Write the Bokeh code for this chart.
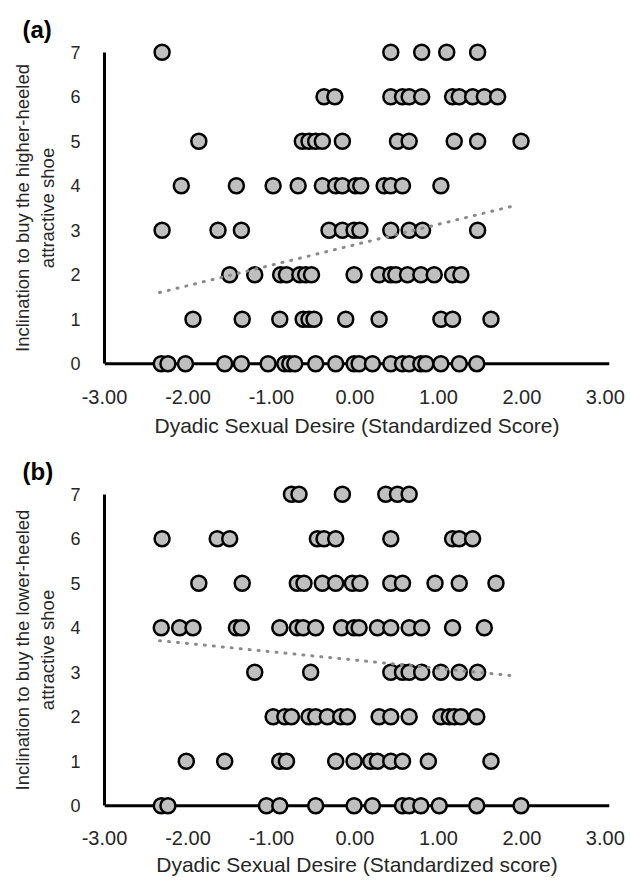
from bokeh.plotting import figure
from bokeh.layouts import column
from bokeh.models import Range1d, FixedTicker, NumeralTickFormatter, Span
from bokeh.embed import file_html
from bokeh.resources import INLINE

# ---------------- data ----------------
x_ticks = [-3, -2, -1, 0, 1, 2, 3]
y_ticks = [0, 1, 2, 3, 4, 5, 6, 7]

# Panel (a): higher-heeled attractive shoe, x values per inclination level
a_lvl7 = [-2.31, 0.43, 0.80, 1.10, 1.47]
a_lvl6 = [-0.37, -0.24, 0.43, 0.57, 0.65, 0.80, 1.17, 1.25, 1.41, 1.55, 1.71]
a_lvl5 = [-1.87, -0.63, -0.55, -0.47, -0.39, -0.15, 0.51, 0.65, 1.19, 1.47, 1.99]
a_lvl4 = [-2.08, -1.42, -0.98, -0.68, -0.39, -0.23, -0.15, 0.01, 0.07, 0.35, 0.43, 0.57, 1.03]
a_lvl3 = [-2.31, -1.64, -1.36, -0.31, -0.15, -0.01, 0.06, 0.43, 0.65, 0.81, 1.47]
a_lvl2 = [-1.50, -1.20, -0.89, -0.82, -0.66, -0.59, -0.52, -0.01, 0.29, 0.43, 0.49, 0.63, 0.79, 0.95, 1.17, 1.27]
a_lvl1 = [-1.94, -1.35, -0.90, -0.62, -0.55, -0.49, -0.11, 0.29, 1.03, 1.17, 1.63]
a_lvl0 = [-2.32, -2.24, -2.03, -1.56, -1.36, -1.04, -0.84, -0.78, -0.72, -0.47, -0.23, -0.01, 0.05,
          0.21, 0.43, 0.57, 0.65, 0.79, 0.85, 1.03, 1.25, 1.46]
a_trend_x = [-2.34, 1.95]
a_trend_y = [1.60, 3.57]

# Panel (b): lower-heeled attractive shoe
b_lvl7 = [-0.76, -0.67, -0.15, 0.37, 0.51, 0.65]
b_lvl6 = [-2.31, -1.65, -1.50, -0.45, -0.37, -0.23, 0.43, 1.17, 1.25, 1.41]
b_lvl5 = [-1.87, -1.35, -0.69, -0.61, -0.39, -0.23, -0.03, 0.06, 0.43, 0.57, 0.96, 1.25, 1.69]
b_lvl4 = [-2.32, -2.10, -1.94, -1.42, -1.36, -0.90, -0.69, -0.62, -0.47, -0.16, -0.01, 0.05, 0.27,
          0.43, 0.65, 0.80, 1.17, 1.55]
b_lvl3 = [-1.20, -0.53, 0.43, 0.57, 0.65, 0.80, 1.03, 1.25, 1.47]
b_lvl2 = [-0.98, -0.84, -0.76, -0.55, -0.47, -0.33, -0.17, -0.09, 0.29, 0.43, 0.65, 1.03, 1.13, 1.19,
          1.27, 1.46]
b_lvl1 = [-2.02, -1.56, -0.90, -0.82, -0.23, -0.01, 0.19, 0.27, 0.43, 0.57, 0.88, 1.63]
b_lvl0 = [-2.32, -2.24, -1.06, -0.90, -0.47, -0.01, 0.21, 0.57, 0.65, 0.79, 1.01, 1.46, 1.99]
b_trend_x = [-2.34, 1.95]
b_trend_y = [3.71, 2.91]

a_levels = [a_lvl0, a_lvl1, a_lvl2, a_lvl3, a_lvl4, a_lvl5, a_lvl6, a_lvl7]
b_levels = [b_lvl0, b_lvl1, b_lvl2, b_lvl3, b_lvl4, b_lvl5, b_lvl6, b_lvl7]

FONT = "Liberation Sans"
TXT = "#262626"


def flatten(levels):
    xs, ys = [], []
    for lvl, vals in zip(y_ticks, levels):
        xs.extend(vals)
        ys.extend([lvl] * len(vals))
    return xs, ys


def make_panel(tag, levels, tx, ty, ylabel, xlabel, top, bottom, tick_sd, lab_sd):
    p = figure(frame_width=505, frame_height=331,
               x_range=Range1d(-3, 3.05), y_range=Range1d(-0.22, 7.22),
               output_backend="svg", toolbar_location=None,
               min_border_left=104, min_border_right=21,
               min_border_top=top, min_border_bottom=bottom)
    p.xgrid.visible = False
    p.ygrid.visible = False
    p.outline_line_color = None
    p.background_fill_color = "white"

    # panel tag "(a)" / "(b)"
    p.title.text = tag
    p.title.align = "left"
    p.title.offset = -82
    p.title.standoff = 0
    p.title.text_font = FONT
    p.title.text_font_size = "24px"
    p.title.text_font_style = "bold"
    p.title.text_color = "black"

    # x axis
    xa = p.xaxis[0]
    xa.ticker = FixedTicker(ticks=x_ticks)
    xa.formatter = NumeralTickFormatter(format="0.00")
    xa.axis_line_color = None
    xa.major_tick_line_color = None
    xa.minor_tick_line_color = None
    xa.major_label_text_font = FONT
    xa.major_label_text_font_size = "20px"
    xa.major_label_text_color = TXT
    xa.major_label_standoff = tick_sd
    xa.axis_label = xlabel
    xa.axis_label_text_font = FONT
    xa.axis_label_text_font_size = "21px"
    xa.axis_label_text_font_style = "normal"
    xa.axis_label_text_color = TXT
    xa.axis_label_standoff = lab_sd

    # y axis
    ya = p.yaxis[0]
    ya.ticker = FixedTicker(ticks=y_ticks)
    ya.bounds = (0, 7)
    ya.axis_line_color = "black"
    ya.axis_line_width = 3
    ya.major_tick_line_color = None
    ya.minor_tick_line_color = None
    ya.major_label_text_font = FONT
    ya.major_label_text_font_size = "18px"
    ya.major_label_text_color = TXT
    ya.major_label_standoff = 18
    ya.axis_label = ylabel
    ya.axis_label_text_font = FONT
    ya.axis_label_text_font_size = "18.5px"
    ya.axis_label_text_font_style = "normal"
    ya.axis_label_text_color = TXT
    ya.axis_label_standoff = 9

    p.add_layout(Span(location=0, dimension="width", line_color="black",
                      line_width=3, level="underlay"))

    xs, ys = flatten(levels)
    p.scatter(xs, ys, marker="circle", size=15, fill_color="#bfbfbf",
              line_color="black", line_width=2.5)
    p.line(tx, ty, line_color="#8a8a8a", line_width=3, line_dash="1 8",
           line_cap="round")
    return p


p1 = make_panel("(a)", a_levels, a_trend_x, a_trend_y,
                "Inclination to buy the higher-heeled\nattractive shoe",
                "Dyadic Sexual Desire (Standardized Score)",
                top=42, bottom=75, tick_sd=10, lab_sd=7)
p2 = make_panel("(b)", b_levels, b_trend_x, b_trend_y,
                "Inclination to buy the lower-heeled\nattractive shoe",
                "Dyadic Sexual Desire (Standardized score)",
                top=36, bottom=59, tick_sd=9, lab_sd=5)

layout = column(p1, p2, spacing=0)
open("out.html", "w").write(file_html(layout, INLINE))
